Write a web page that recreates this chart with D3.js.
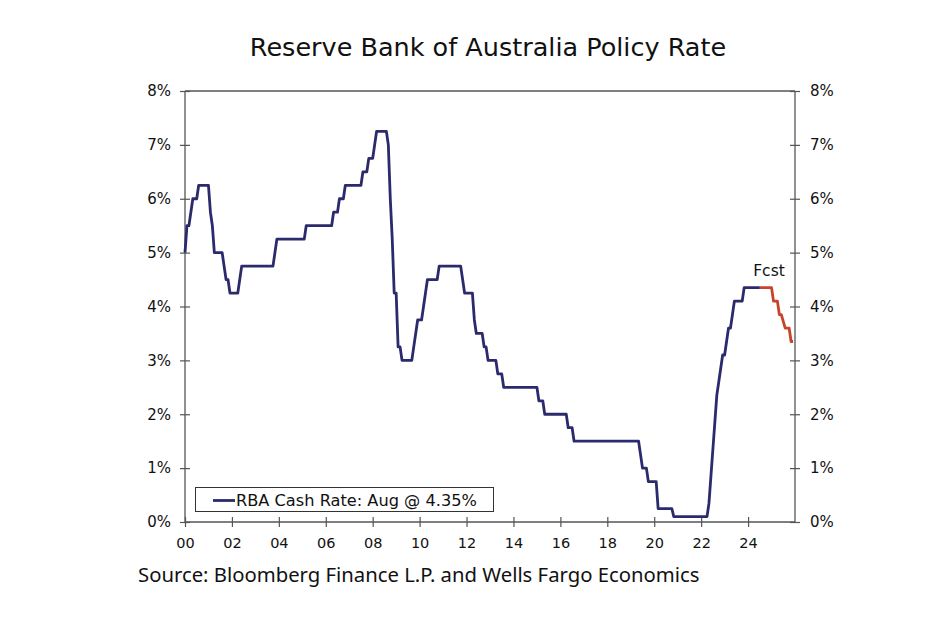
<!DOCTYPE html>
<html>
<head>
<meta charset="utf-8">
<script src="https://cdn.jsdelivr.net/npm/d3@7"></script>
<style>
  html, body { margin: 0; padding: 0; background: #fff; }
  svg { display: block; font-family: "DejaVu Sans", Verdana, sans-serif; }
</style>
</head>
<body>
<svg id="chart" width="950" height="630"></svg>
<script>
// ---- Data (month, cash rate %) : vertices of the monthly series ----
const actualDates = [
  "2000-01","2000-02","2000-03","2000-04","2000-05","2000-07","2000-08","2001-01","2001-02","2001-03",
  "2001-04","2001-08","2001-09","2001-10","2001-11","2001-12","2002-04","2002-05","2002-06","2003-10",
  "2003-11","2003-12","2005-02","2005-03","2006-04","2006-05","2006-07","2006-08","2006-10","2006-11",
  "2007-07","2007-08","2007-10","2007-11","2008-01","2008-02","2008-03","2008-08","2008-09","2008-10",
  "2008-11","2008-12","2009-01","2009-02","2009-03","2009-04","2009-09","2009-10","2009-11","2009-12",
  "2010-02","2010-03","2010-04","2010-05","2010-10","2010-11","2011-10","2011-11","2011-12","2012-04",
  "2012-05","2012-06","2012-09","2012-10","2012-11","2012-12","2013-04","2013-05","2013-07","2013-08",
  "2015-01","2015-02","2015-04","2015-05","2016-04","2016-05","2016-07","2016-08","2019-05","2019-06",
  "2019-07","2019-09","2019-10","2020-02","2020-03","2020-10","2020-11","2022-04","2022-05","2022-06",
  "2022-07","2022-08","2022-09","2022-10","2022-11","2022-12","2023-01","2023-02","2023-03","2023-04",
  "2023-05","2023-06","2023-10","2023-11","2024-07"
];
const actualRates = [
  5.00,5.50,5.50,5.75,6.00,6.00,6.25,6.25,5.75,5.50,
  5.00,5.00,4.75,4.50,4.50,4.25,4.25,4.50,4.75,4.75,
  5.00,5.25,5.25,5.50,5.50,5.75,5.75,6.00,6.00,6.25,
  6.25,6.50,6.50,6.75,6.75,7.00,7.25,7.25,7.00,6.00,
  5.25,4.25,4.25,3.25,3.25,3.00,3.00,3.25,3.50,3.75,
  3.75,4.00,4.25,4.50,4.50,4.75,4.75,4.50,4.25,4.25,
  3.75,3.50,3.50,3.25,3.25,3.00,3.00,2.75,2.75,2.50,
  2.50,2.25,2.25,2.00,2.00,1.75,1.75,1.50,1.50,1.25,
  1.00,1.00,0.75,0.75,0.25,0.25,0.10,0.10,0.35,0.85,
  1.35,1.85,2.35,2.60,2.85,3.10,3.10,3.35,3.60,3.60,
  3.85,4.10,4.10,4.35,4.35
];
const forecastDates = ["2024-07","2025-01","2025-02","2025-04","2025-05","2025-06","2025-08","2025-10","2025-11","2025-12"];
const forecastRates = [4.35,4.35,4.10,4.10,3.85,3.85,3.60,3.60,3.35,3.35];

const yTicks = [0,1,2,3,4,5,6,7,8];
const xTickYears = [0,2,4,6,8,10,12,14,16,18,20,22,24];
const xTickLabels = ["00","02","04","06","08","10","12","14","16","18","20","22","24"];

const titleText = "Reserve Bank of Australia Policy Rate";
const legendText = "RBA Cash Rate: Aug @ 4.35%";
const fcstText = "Fcst";
const sourceText = "Source: Bloomberg Finance L.P. and Wells Fargo Economics";

// ---- Layout ----
const W = 950, H = 630;
const L = 185, R = 795, T = 91, B = 522;
const axisColor = "#555555";
const lineColor = "#2a2a6c";
const fcstColor = "#c8432b";

const toYear = s => { const [y, m] = s.split("-").map(Number); return (y - 2000) + (m - 1) / 12; };
const actual = actualDates.map((d, i) => ({x: toYear(d), y: actualRates[i]}));
const forecast = forecastDates.map((d, i) => ({x: toYear(d), y: forecastRates[i]}));

const x = d3.scaleLinear().domain([0, 26]).range([L, R]);
const y = d3.scaleLinear().domain([0, 8]).range([B, T]);

const svg = d3.select("#chart");

// Title
svg.append("text").attr("x", 488).attr("y", 56).attr("text-anchor", "middle")
  .attr("font-size", 25.5).attr("fill", "#111").text(titleText);

// Plot frame (top line)
svg.append("line").attr("x1", L).attr("x2", R).attr("y1", T).attr("y2", T)
  .attr("stroke", axisColor).attr("stroke-width", 1.3);

// Left axis
const gL = svg.append("g").attr("transform", `translate(${L},0)`)
  .call(d3.axisLeft(y).tickValues(yTicks).tickFormat(d => d + "%").tickSize(5).tickPadding(9));
gL.selectAll(".tick line").attr("x1", -5).attr("x2", 5);
// Right axis
const gR = svg.append("g").attr("transform", `translate(${R},0)`)
  .call(d3.axisRight(y).tickValues(yTicks).tickFormat(d => d + "%").tickSize(5).tickPadding(10));
gR.selectAll(".tick line").attr("x1", -5).attr("x2", 5);
// Bottom axis
const gB = svg.append("g").attr("transform", `translate(0,${B})`)
  .call(d3.axisBottom(x).tickValues(xTickYears).tickFormat((d, i) => xTickLabels[i]).tickSize(5).tickPadding(11));
gB.selectAll(".tick line").attr("y1", -5).attr("y2", 5);

[gL, gR, gB].forEach(g => {
  g.select(".domain").attr("stroke", axisColor).attr("stroke-width", 1.3);
  g.selectAll(".tick line").attr("stroke", axisColor).attr("stroke-width", 1.2);
  g.selectAll(".tick text").attr("font-size", 15).attr("fill", "#111")
    .attr("font-family", "\"DejaVu Sans\", Verdana, sans-serif");
});
gB.selectAll(".tick text").attr("font-size", 14.5);
gL.select(".domain").attr("d", `M0,${T}V${B}`);
gR.select(".domain").attr("d", `M0,${T}V${B}`);
gB.select(".domain").attr("d", `M${L},0H${R}`);

// Lines
const line = d3.line().x(d => x(d.x)).y(d => y(d.y));
svg.append("path").datum(forecast).attr("d", line).attr("fill", "none")
  .attr("stroke", fcstColor).attr("stroke-width", 2.8).attr("stroke-linejoin", "round");
svg.append("path").datum(actual).attr("d", line).attr("fill", "none")
  .attr("stroke", lineColor).attr("stroke-width", 2.8).attr("stroke-linejoin", "round");

// Fcst label
svg.append("text").attr("x", 769).attr("y", 276).attr("text-anchor", "middle")
  .attr("font-size", 15.5).attr("fill", "#111").text(fcstText);

// Legend
svg.append("rect").attr("x", 195.5).attr("y", 487.5).attr("width", 298).attr("height", 24)
  .attr("fill", "#fff").attr("stroke", "#333").attr("stroke-width", 1);
svg.append("line").attr("x1", 213).attr("x2", 235).attr("y1", 500.5).attr("y2", 500.5)
  .attr("stroke", lineColor).attr("stroke-width", 2.8);
svg.append("text").attr("x", 236).attr("y", 506).attr("font-size", 16.2).attr("fill", "#111").text(legendText);

// Source
svg.append("text").attr("x", 138).attr("y", 582).attr("font-size", 20.3)
  .attr("font-family", "\"Noto Sans\", \"Open Sans\", sans-serif").attr("fill", "#111").text(sourceText);
</script>
</body>
</html>
